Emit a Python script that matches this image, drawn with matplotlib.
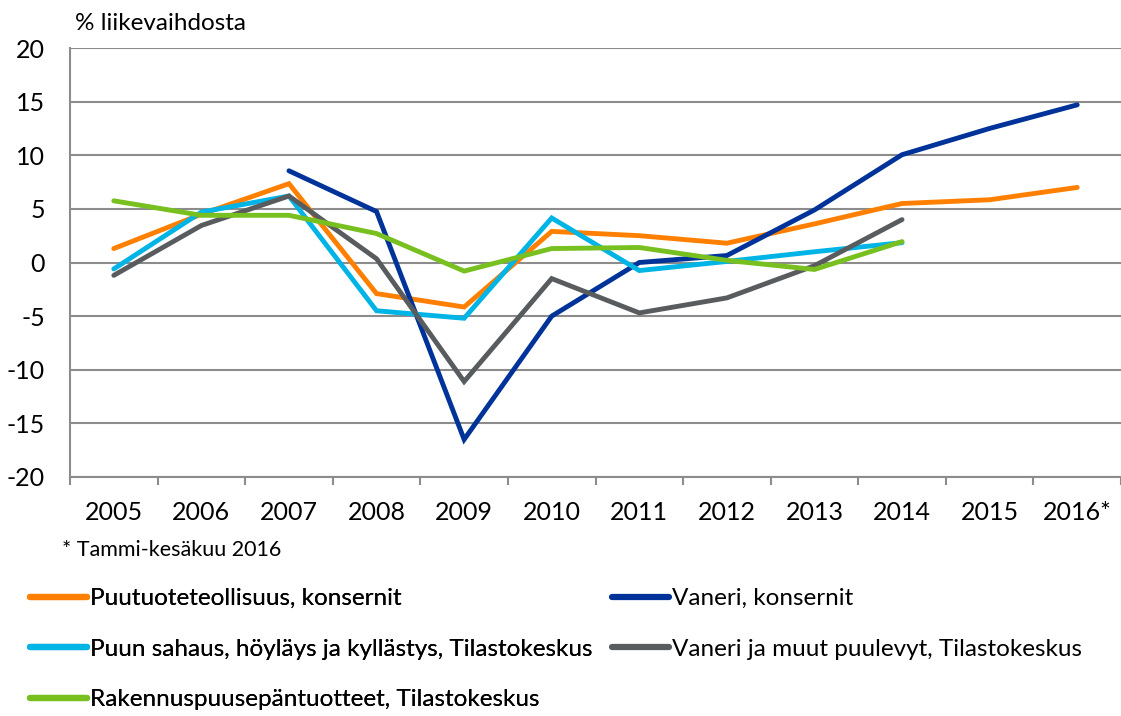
import numpy as np
import matplotlib
matplotlib.use("Agg")
import matplotlib.pyplot as plt
from matplotlib.lines import Line2D

plt.rcParams['font.family'] = ['Lato', 'DejaVu Sans']
plt.rcParams['axes.unicode_minus'] = False

years = ["2005", "2006", "2007", "2008", "2009", "2010", "2011", "2012",
         "2013", "2014", "2015", "2016*"]
nan = np.nan
puutuote = [1.3, 4.5, 7.35, -2.9, -4.15, 2.9, 2.5, 1.8, 3.6, 5.5, 5.85, 7.0]
vaneri_kons = [nan, nan, 8.55, 4.75, -16.5, -5.0, 0.0, 0.65, 4.9, 10.05, 12.5, 14.7]
sahaus = [-0.6, 4.7, 6.2, -4.5, -5.2, 4.15, -0.75, 0.1, 1.0, 1.85, nan, nan]
vaneri_muut = [-1.2, 3.45, 6.2, 0.35, -11.1, -1.5, -4.7, -3.3, -0.3, 4.0, nan, nan]
rakennus = [5.75, 4.4, 4.4, 2.7, -0.8, 1.3, 1.4, 0.2, -0.65, 1.95, nan, nan]

series = [
    ("Puutuoteteollisuus, konsernit", puutuote, "#FF8000"),
    ("Vaneri, konsernit", vaneri_kons, "#003399"),
    ("Puun sahaus, höyläys ja kyllästys, Tilastokeskus", sahaus, "#00B4E6"),
    ("Vaneri ja muut puulevyt, Tilastokeskus", vaneri_muut, "#595C5F"),
    ("Rakennuspuusepäntuotteet, Tilastokeskus", rakennus, "#77C01F"),
]

W, H = 1121, 716
fig = plt.figure(figsize=(W / 100, H / 100), dpi=100)
ax = fig.add_axes([70 / W, (H - 477) / H, (W - 70) / W, (477 - 48) / H])

x = np.arange(len(years))
handles = {}
for label, vals, color in series:
    ln, = ax.plot(x, vals, color=color, lw=3.5, solid_capstyle='round',
                  solid_joinstyle='miter', label=label)
    handles[label] = ln

ax.set_ylim(-20, 20)
ax.set_xlim(-0.5, -0.5 + (W - 70) / 88.0)
ax.set_yticks(np.arange(-20, 21, 5))
ax.yaxis.grid(True, color='#8C8C8C', lw=1.5)
ax.set_axisbelow(True)
ax.tick_params(axis='y', length=0, pad=18, labelsize=18, labelcolor='#000000')

ax.set_xticks(np.arange(-0.5, len(years) + 0.5, 1.0))
ax.set_xticklabels([])
ax.tick_params(axis='x', which='major', length=6, width=1.5, color='#8C8C8C', direction='out')
ax.set_xticks(x, minor=True)
ax.set_xticklabels(years, minor=True)
ax.tick_params(axis='x', which='minor', length=0, pad=17, labelsize=18)

for s in ['top', 'right']:
    ax.spines[s].set_visible(False)
for s in ['left', 'bottom']:
    ax.spines[s].set_color('#8C8C8C')
    ax.spines[s].set_linewidth(1.5)

fig.text(75 / W, 1 - 24 / H, "% liikevaihdosta", fontsize=17.5, va='center', ha='left')
fig.text(62 / W, 1 - 550 / H, "* Tammi-kesäkuu 2016", fontsize=15.5, va='center', ha='left')

def make_leg(labels, x0):
    hs = [Line2D([], [], color=handles[l].get_color(), lw=4.5, solid_capstyle='round') for l in labels]
    lg = fig.legend(hs, labels, ncol=1, loc='upper left',
                    bbox_to_anchor=(x0 / W, 1 - 588 / H), frameon=False,
                    fontsize=17.5, handlelength=2.35, handletextpad=0.1,
                    labelspacing=1.22, borderaxespad=0, borderpad=0)
    return lg

lg1 = make_leg([series[0][0], series[2][0], series[4][0]], 30)
fig.add_artist(lg1)
make_leg([series[1][0], series[3][0]], 612)

fig.savefig("out.png", dpi=100)
